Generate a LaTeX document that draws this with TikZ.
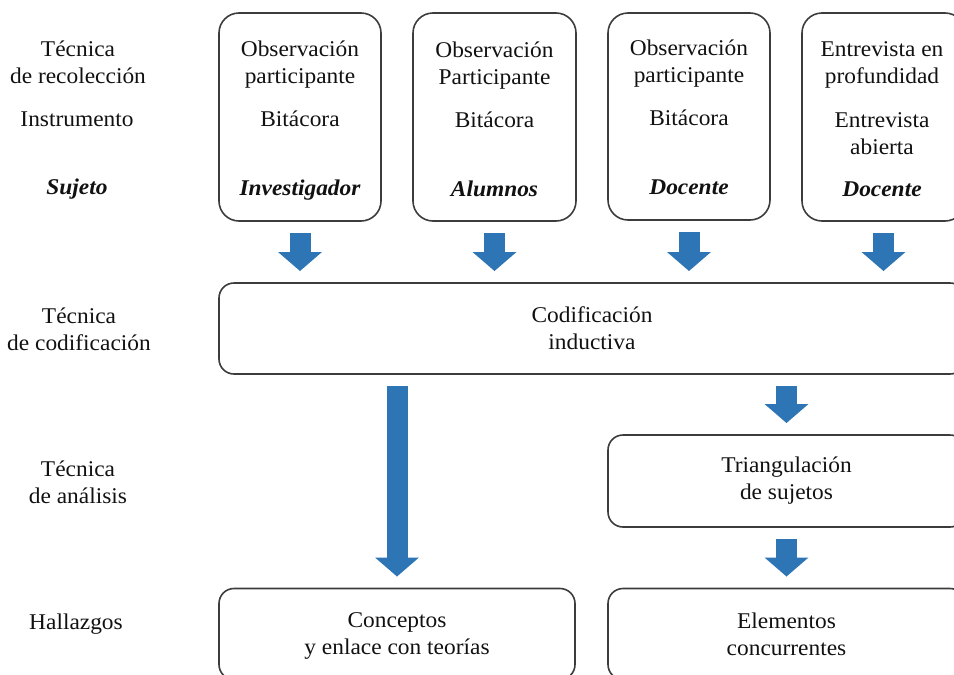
\documentclass[tikz,border=0pt]{standalone}
\usepackage{fontspec}
\setmainfont{Liberation Serif}[FakeStretch=1.04]
\usetikzlibrary{arrows.meta,positioning}
\definecolor{FlowBlue}{HTML}{2E75B6}
\definecolor{FlowLine}{HTML}{3C3C3C}
\definecolor{FlowInk}{HTML}{111111}
\tikzset{
  card/.style={draw=FlowLine,line width=1.6pt,rounded corners=20pt,outer sep=0pt,
               inner sep=0pt,text=FlowInk,align=center,font=\fontsize{22.5}{27}\selectfont},
  cardwide/.style={card,rounded corners=15pt},
  rowlabel/.style={text=FlowInk,align=center,font=\fontsize{22.5}{27}\selectfont},
  subject/.style={rowlabel,font=\fontsize{22.5}{27}\selectfont\bfseries\itshape},
  bigflow/.style={draw=FlowBlue,line width=21pt,
                  -{Triangle[length=19pt,width=44pt,line width=0pt]},
                  shorten <=12pt,shorten >=12pt},
}

\begin{document}
\begin{tikzpicture}[x=1pt,y=-1pt]
    \clip (0,0) rectangle (954,675);

    \node[rowlabel] (lblRecol) at (78,62) {Técnica\\de recolección};
    \node[rowlabel] (lblInstr) at (77,119) {Instrumento};
    \node[subject] (lblSujeto) at (77,189) {Sujeto};
    \node[rowlabel] (lblCod) at (79,329) {Técnica\\de codificación};
    \node[rowlabel] (lblAnal) at (78,482) {Técnica\\de análisis};
    \node[rowlabel] (lblHall) at (76,624) {Hallazgos};

    \node[card,minimum width=162pt,minimum height=208pt] (recol1) at (300,117) {};
    \node[card,minimum width=163pt,minimum height=208pt] (recol2) at (494.5,117) {};
    \node[card,minimum width=162pt,minimum height=207pt] (recol3) at (689,116.5) {};
    \node[card,minimum width=163pt,minimum height=208pt] (recol4) at (883.5,117) {};

    \node[rowlabel] (tec1) at (300,64.5) {Observación\\participante};
    \node[rowlabel] (ins1) at (300,119) {Bitácora};
    \node[subject] (suj1) at (300,190) {Investigador};
    \node[rowlabel] (tec2) at (494.5,65.5) {Observación\\Participante};
    \node[rowlabel] (ins2) at (494.5,120) {Bitácora};
    \node[subject] (suj2) at (494.5,189) {Alumnos};
    \node[rowlabel] (tec3) at (689,63.5) {Observación\\participante};
    \node[rowlabel] (ins3) at (689,118) {Bitácora};
    \node[subject] (suj3) at (689,187) {Docente};
    \node[rowlabel] (tec4) at (882,64.5) {Entrevista en\\profundidad};
    \node[rowlabel] (ins4) at (882,133.5) {Entrevista\\abierta};
    \node[subject] (suj4) at (882,189) {Docente};

    \node[cardwide,minimum width=746pt,minimum height=91pt] (cod) at (592,328.5)
      {Codificación\\inductiva};
    \node[cardwide,minimum width=357pt,minimum height=92pt] (triang) at (786.5,481)
      {Triangulación\\de sujetos};
    \node[cardwide,minimum width=356pt,minimum height=91pt] (concep) at (397,634)
      {Conceptos\\\smash{y enlace con teorías}};
    \node[cardwide,minimum width=357pt,minimum height=91pt] (elem) at (786.5,634)
      {Elementos\\concurrentes};

    \foreach \b in {recol1,recol2,recol3,recol4}
      \draw[bigflow] (\b.south) -- (\b.south |- cod.north);
    \draw[bigflow] (cod.south -| concep.north) -- (concep.north);
    \draw[bigflow] (cod.south -| triang.north) -- (triang.north);
    \draw[bigflow] (triang.south) -- (elem.north);
\end{tikzpicture}
\end{document}
